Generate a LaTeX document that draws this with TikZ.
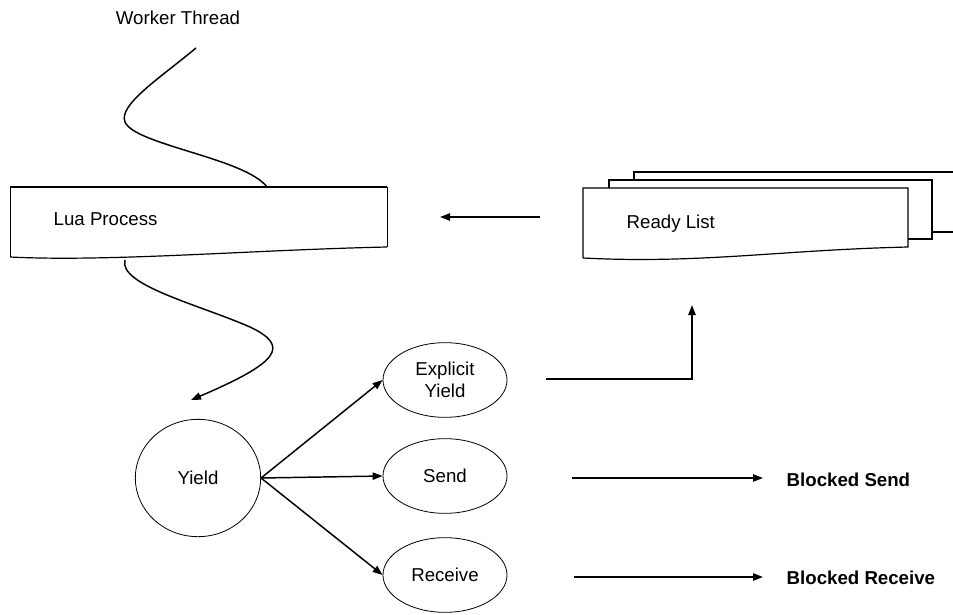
\documentclass[tikz,border=0pt]{standalone}
\usepackage{fontspec}
\setmainfont{Liberation Sans}
\usetikzlibrary{arrows.meta,shapes.geometric}
\begin{document}
\begin{tikzpicture}[x=0.75pt,y=-0.75pt,
  every node/.style={font=\fontsize{14}{16}\selectfont},
  shapeline/.style={line width=0.9pt},
  thinline/.style={line width=0.5pt},
  oval/.style={draw,ellipse,line width=0.6pt,inner sep=0pt,minimum width=93pt,minimum height=56pt},
  conn/.style={line width=1.1pt,-{Triangle[length=7.5pt,width=5.5pt]}},
  boldlabel/.style={font=\fontsize{14}{16}\selectfont\bfseries,anchor=west}]
\useasboundingbox (0,0) rectangle (953,614);

% worker thread and process box
\node (wt) at (178,18) {Worker Thread};
\coordinate (wtstart) at (196,48);
\coordinate (lptop) at (267,187);
\draw[thinline] (10,257) -- (10,187);
\draw[shapeline] (10,187) -- (387,187);
\draw[thinline] (387,187) -- (387,247);
\draw[shapeline] (10,257) .. controls (110,262) and (250,250) .. (387,247);
\node[anchor=west] (lp) at (49,219) {Lua Process};
\draw[line width=1.1pt] (wtstart) .. controls (160,78) and (118,105) .. (125,122)
  .. controls (135,145) and (245,158) .. (lptop);

% ready list, three stacked pages
\draw[shapeline,fill=white] (634,232) -- (634,172) -- (953,172);
\draw[shapeline] (932,232) -- (953,232);
\draw[shapeline,fill=white] (609,239) -- (609,180) -- (932,180) -- (932,239) -- cycle;
\draw[shapeline,fill=white] (583,258) -- (583,188) -- (908,188) -- (908,247)
  .. controls (780,250) and (700,264) .. (583,258);
\node[anchor=west] (rl) at (622,224) {Ready List};
\coordinate (rlout) at (540,217);
\coordinate (lpin) at (440,217);
\draw[conn] (rlout) -- (lpin);

% yield and its three kinds
\coordinate (lpbottom) at (125,260);
\node[oval,minimum width=94pt,minimum height=88pt] (yield) at (198,478) {Yield};
\draw[conn] (lpbottom) .. controls (118,285) and (200,305) .. (250,327)
  .. controls (290,346) and (280,362) .. (191,400);
\node[oval,align=center,font=\fontsize{14}{16.5}\selectfont] (ey) at (445,380) {Explicit\\Yield};
\node[oval] (send) at (445,476) {Send};
\node[oval] (recv) at (445,575) {Receive};
\draw[conn] (yield.east) -- (ey.west);
\draw[conn] (yield.east) -- (send.west);
\draw[conn] (yield.east) -- (recv.west);

% explicit yield goes back to the ready list
\coordinate (eyout) at (546,379);
\coordinate (eycorner) at (692,379);
\coordinate (rlin) at (692,305);
\draw[conn] (eyout) -- (eycorner) -- (rlin);

% blocked states
\coordinate (sendout) at (572,478);
\coordinate (recvout) at (574,577);
\node[boldlabel] (bs) at (782,480) {Blocked Send};
\node[boldlabel] (br) at (782,578) {Blocked Receive};
\draw[conn] (sendout) -- (763,478);
\draw[conn] (recvout) -- (763,577);
\end{tikzpicture}
\end{document}
